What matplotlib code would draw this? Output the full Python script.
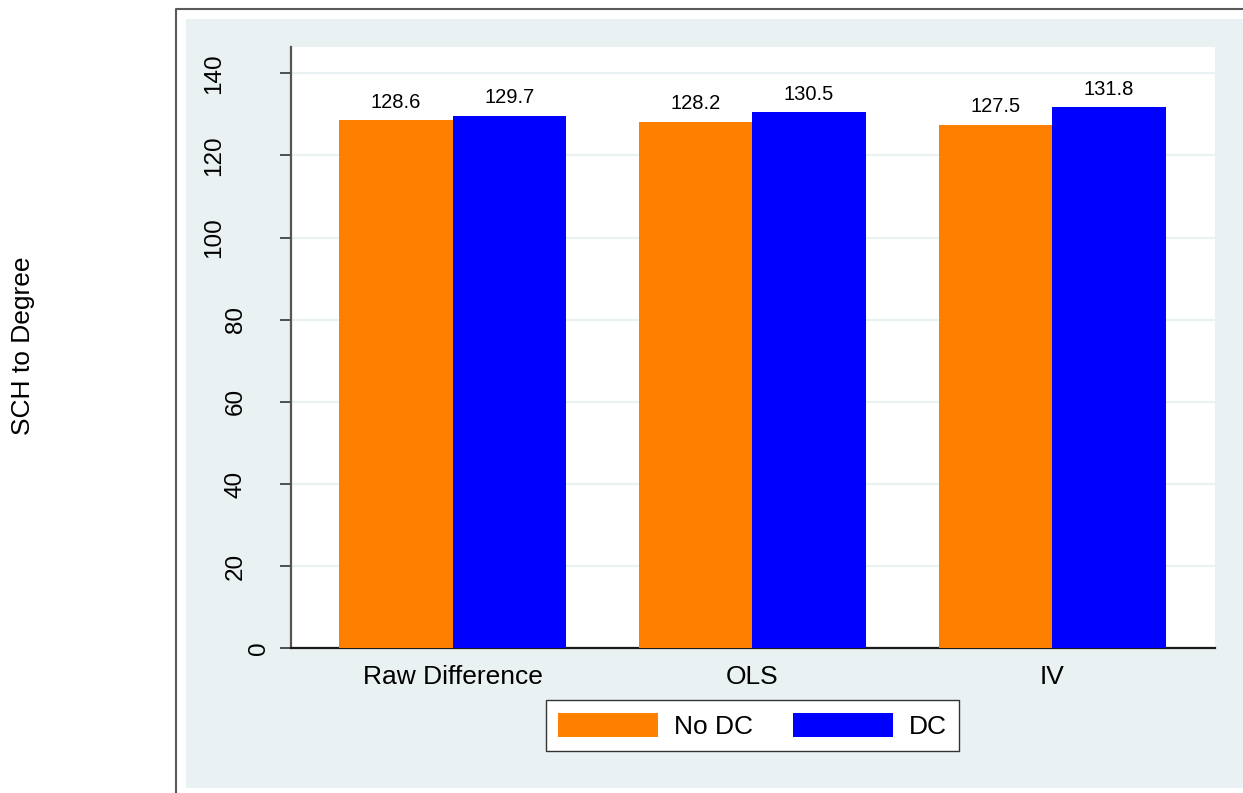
import matplotlib
matplotlib.use("Agg")
import matplotlib.pyplot as plt
from matplotlib.patches import Rectangle
from matplotlib.lines import Line2D
import numpy as np

# Chart data
categories = ["Raw Difference", "OLS", "IV"]
no_dc = [128.6, 128.2, 127.5]
dc = [129.7, 130.5, 131.8]
series_names = ["No DC", "DC"]
y_ticks = [0, 20, 40, 60, 80, 100, 120, 140]

W, H = 1243, 793
DPI = 100
plt.rcParams['font.family'] = ['Liberation Sans', 'DejaVu Sans']

fig = plt.figure(figsize=(W / DPI, H / DPI), dpi=DPI)
fig.patch.set_facecolor('white')


def fx(px):
    return px / W


def fy(py):
    return 1 - py / H


BG = '#eaf1f3'
ORANGE = '#ff7f00'
BLUE = '#0000ff'

# graph region background and outer frame
fig.add_artist(Rectangle((fx(186), fy(788)), 1.05 - fx(186), fy(19) - fy(788),
                         transform=fig.transFigure, facecolor=BG,
                         edgecolor='none', zorder=0))
fig.add_artist(Line2D([fx(175.5), fx(175.5), 1.01], [-0.01, fy(9), fy(9)],
                      transform=fig.transFigure, color='#5a5a5a', lw=1.5,
                      zorder=1))

ax_left, ax_right, ax_top, ax_bottom = 291, 1215, 47, 648.3
ax = fig.add_axes([fx(ax_left), fy(ax_bottom),
                   fx(ax_right) - fx(ax_left), fy(ax_top) - fy(ax_bottom)])
ax.set_facecolor('white')

x = np.arange(len(categories))
w = 0.3773
b1 = ax.bar(x - w / 2, no_dc, w, color=ORANGE, label=series_names[0], zorder=3)
b2 = ax.bar(x + w / 2, dc, w, color=BLUE, label=series_names[1], zorder=3)
ax.bar_label(b1, labels=[f"{v:.1f}" for v in no_dc], padding=6, fontsize=14.5)
ax.bar_label(b2, labels=[f"{v:.1f}" for v in dc], padding=6, fontsize=14.5)

ax.set_xlim(-0.5387, 2.5423)
ax.set_ylim(0, 146.4)

for side in ('top', 'right'):
    ax.spines[side].set_visible(False)
ax.spines['left'].set_color('#555555')
ax.spines['left'].set_linewidth(1.6)
ax.spines['bottom'].set_color('#1a1a1a')
ax.spines['bottom'].set_linewidth(1.6)

ax.set_axisbelow(True)
ax.yaxis.grid(True, color=BG, lw=1.6)

ax.set_yticks(y_ticks)
ax.set_yticklabels([])
ax.tick_params(axis='y', length=8, width=1.2, color='#333333')

# rotated y tick labels, offset according to label length
label_centers = {3: 214, 2: 236, 1: 259.5}
span = ax_right - ax_left
for v in y_ticks:
    s = str(v)
    ax.text((label_centers[len(s)] - ax_left) / span, v, s,
            transform=ax.get_yaxis_transform(), rotation=90,
            ha='center', va='center', fontsize=17.5, clip_on=False)

ax.set_xticks(x, categories, fontsize=19)
ax.tick_params(axis='x', length=0, pad=12)

fig.text(fx(23), fy(346), "SCH to Degree", rotation=90, ha='center',
         va='center', fontsize=19)

leg = fig.legend(handles=[b1, b2], labels=series_names, loc='center',
                 bbox_to_anchor=(fx(752.3), fy(725.7)), ncol=2, fontsize=19,
                 frameon=True, fancybox=False, edgecolor='#333333',
                 framealpha=1, handlelength=3.79, handleheight=1.02,
                 handletextpad=0.6, columnspacing=1.5, borderpad=0.47)
leg.get_frame().set_linewidth(1.0)

fig.savefig("out.png", dpi=DPI, facecolor='white')
